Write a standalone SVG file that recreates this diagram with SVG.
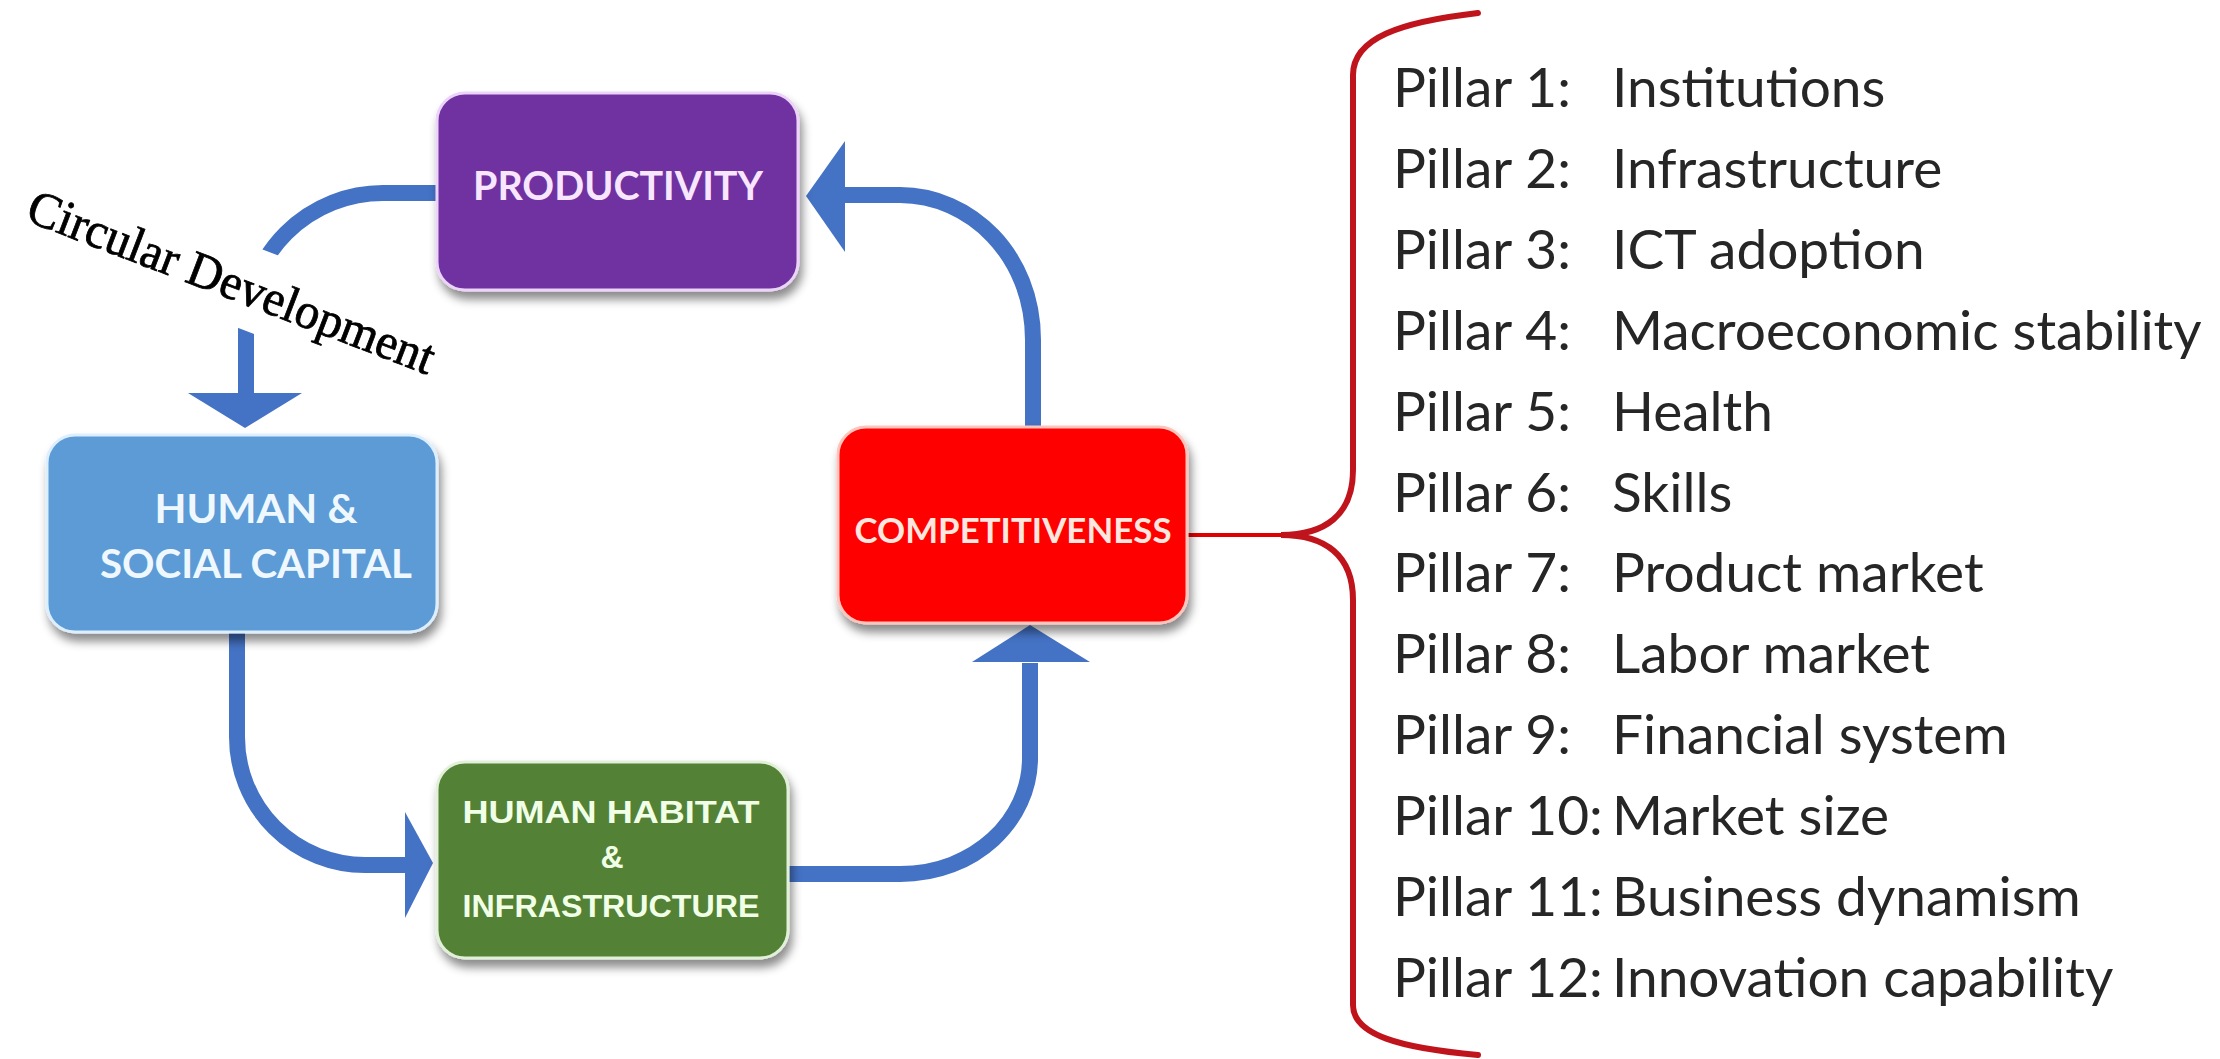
<svg xmlns="http://www.w3.org/2000/svg" width="2220" height="1059" viewBox="0 0 2220 1059">
  <defs>
    <filter id="shadow" x="-10%" y="-10%" width="125%" height="135%">
      <feDropShadow dx="3" dy="8" stdDeviation="5" flood-color="#000" flood-opacity="0.45"/>
    </filter>
    <style>
      .box { stroke-width: 3; filter: url(#shadow); }
      .lbl { font-family: Lato, "Liberation Sans", sans-serif; font-weight: bold; text-anchor: middle; }
      .arrow { fill: none; stroke: #4472C4; stroke-width: 16; }
      .head { fill: #4472C4; }
      .pillar { font-family: Lato, "Liberation Sans", sans-serif; font-weight: normal; font-size: 55px; fill: #262626; }
      .brace { fill: none; stroke: #C0141C; stroke-width: 6; stroke-linecap: round; }
    </style>
  </defs>
  <rect width="2220" height="1059" fill="#FFFFFF"/>

  <g id="connectors">
    <!-- Productivity -> Human & Social Capital -->
    <path class="arrow" d="M 437 193 L 383 193 A 137 137 0 0 0 246 330 L 246 396"/>
    <polygon class="head" points="188,393 302,393 245,428"/>
    <!-- Human & Social Capital -> Human Habitat -->
    <path class="arrow" d="M 237 630 L 237 737 A 128 128 0 0 0 365 865 L 408 865"/>
    <polygon class="head" points="405,812 405,918 433,863"/>
    <!-- Human Habitat -> Competitiveness -->
    <path class="arrow" d="M 786 874 L 900 874 C 975 874 1030 820 1030 758 L 1030 663"/>
    <polygon class="head" points="972,662 1090,662 1030,625"/>
    <!-- Competitiveness -> Productivity -->
    <path class="arrow" d="M 1033 428 L 1033 340 C 1033 255 970 195 900 195 L 844 195"/>
    <polygon class="head" points="845,141 845,252 806,196"/>
    <!-- Competitiveness -> pillars brace -->
    <path d="M 1188 535 L 1283 535" stroke="#E00000" stroke-width="4" fill="none"/>
    <path class="brace" d="M 1478 13 C 1400 22 1353 38 1353 75 L 1353 470 C 1353 515 1325 535 1281 535 C 1325 535 1353 555 1353 600 L 1353 1005 C 1353 1035 1400 1048 1478 1055"/>
  </g>

  <g id="title-label">
    <g transform="translate(24,220) rotate(21)">
      <rect x="-8" y="-58" width="450" height="82" fill="#FFFFFF"/>
      <text x="0" y="0" font-family="'Liberation Serif', 'DejaVu Serif', serif" font-size="50" fill="#000" stroke="#000" stroke-width="0.8" textLength="432" lengthAdjust="spacingAndGlyphs">Circular Development</text>
    </g>
  </g>

  <g id="node-productivity">
    <rect class="box" x="437" y="93" width="361" height="197" rx="28" fill="#7030A0" stroke="#EBD3FA"/>
    <text class="lbl" x="618" y="200" font-size="40" fill="#F8E6FF" textLength="290" lengthAdjust="spacingAndGlyphs">PRODUCTIVITY</text>
  </g>

  <g id="node-human-social">
    <rect class="box" x="47" y="435" width="390" height="197" rx="28" fill="#5B9BD5" stroke="#DDEFFF"/>
    <text class="lbl" x="256" y="523" font-size="40" fill="#F0F8FF" textLength="203" lengthAdjust="spacingAndGlyphs">HUMAN &amp;</text>
    <text class="lbl" x="256" y="578" font-size="40" fill="#F0F8FF" textLength="312" lengthAdjust="spacingAndGlyphs">SOCIAL CAPITAL</text>
  </g>

  <g id="node-habitat">
    <rect class="box" x="437" y="762" width="351" height="196" rx="28" fill="#538135" stroke="#E2F0D9"/>
    <text x="611" y="823" font-family="'Liberation Sans', Arial, sans-serif" font-weight="bold" font-size="32" fill="#F0FFE6" text-anchor="middle" textLength="297" lengthAdjust="spacingAndGlyphs">HUMAN  HABITAT</text>
    <text x="612" y="868" font-family="'Liberation Sans', Arial, sans-serif" font-weight="bold" font-size="32" fill="#F0FFE6" text-anchor="middle">&amp;</text>
    <text x="611" y="917" font-family="'Liberation Sans', Arial, sans-serif" font-weight="bold" font-size="32" fill="#F0FFE6" text-anchor="middle" textLength="297" lengthAdjust="spacingAndGlyphs">INFRASTRUCTURE</text>
  </g>

  <g id="node-competitiveness">
    <rect class="box" x="838" y="427" width="349" height="196" rx="28" fill="#FF0000" stroke="#FFC4BC"/>
    <text class="lbl" x="1013" y="543" font-size="35" fill="#FFE6DE" textLength="317" lengthAdjust="spacingAndGlyphs">COMPETITIVENESS</text>
  </g>

  <g id="pillars">
    <text class="pillar" x="1393" y="107">Pillar 1:</text><text class="pillar" x="1612" y="107">Institutions</text>
    <text class="pillar" x="1393" y="188">Pillar 2:</text><text class="pillar" x="1612" y="188">Infrastructure</text>
    <text class="pillar" x="1393" y="269">Pillar 3:</text><text class="pillar" x="1612" y="269">ICT adoption</text>
    <text class="pillar" x="1393" y="350">Pillar 4:</text><text class="pillar" x="1612" y="350">Macroeconomic stability</text>
    <text class="pillar" x="1393" y="431">Pillar 5:</text><text class="pillar" x="1612" y="431">Health</text>
    <text class="pillar" x="1393" y="512">Pillar 6:</text><text class="pillar" x="1612" y="512">Skills</text>
    <text class="pillar" x="1393" y="592">Pillar 7:</text><text class="pillar" x="1612" y="592">Product market</text>
    <text class="pillar" x="1393" y="673">Pillar 8:</text><text class="pillar" x="1612" y="673">Labor market</text>
    <text class="pillar" x="1393" y="754">Pillar 9:</text><text class="pillar" x="1612" y="754">Financial  system</text>
    <text class="pillar" x="1393" y="835">Pillar 10:</text><text class="pillar" x="1612" y="835">Market size</text>
    <text class="pillar" x="1393" y="916">Pillar 11:</text><text class="pillar" x="1612" y="916">Business  dynamism</text>
    <text class="pillar" x="1393" y="997">Pillar 12:</text><text class="pillar" x="1612" y="997">Innovation capability</text>
  </g>
</svg>
